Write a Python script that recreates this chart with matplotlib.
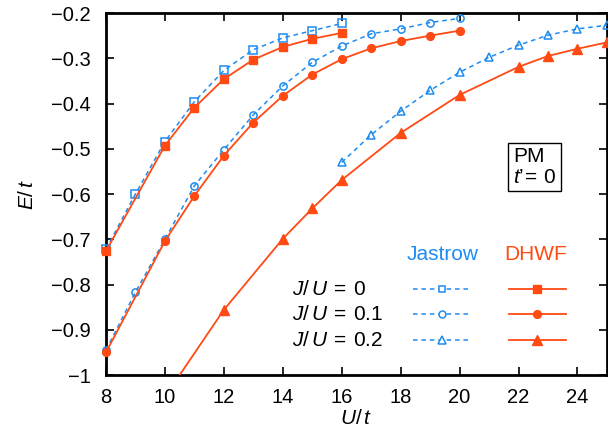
"""E/t versus U/t for Jastrow and DHWF wave functions (PM, t'=0)."""

import matplotlib
matplotlib.use('Agg')
import matplotlib.pyplot as plt
from matplotlib.lines import Line2D

plt.rcParams['font.family'] = ['Liberation Sans', 'DejaVu Sans']
plt.rcParams['mathtext.fontset'] = 'custom'
plt.rcParams['mathtext.rm'] = 'Liberation Sans'
plt.rcParams['mathtext.it'] = 'Liberation Sans:italic'

BLUE = '#1E8CF0'
RED = '#FF4A14'

# Jastrow (open symbols, dashed)
u_jas_0 = [8, 9, 10, 11, 12, 13, 14, 15, 16]
e_jas_0 = [-0.722, -0.600, -0.484, -0.396, -0.327, -0.281, -0.255, -0.239, -0.223]
u_jas_1 = [8, 9, 10, 11, 12, 13, 14, 15, 16, 17, 18, 19, 20]
e_jas_1 = [-0.945, -0.817, -0.700, -0.582, -0.502, -0.425, -0.361, -0.309,
           -0.273, -0.246, -0.235, -0.221, -0.212]
u_jas_2 = [16, 17, 18, 19, 20, 21, 22, 23, 24, 25]
e_jas_2 = [-0.530, -0.469, -0.417, -0.371, -0.331, -0.298, -0.271, -0.249,
           -0.235, -0.227]

# DHWF (filled symbols, solid)
u_dh_0 = [8, 10, 11, 12, 13, 14, 15, 16]
e_dh_0 = [-0.726, -0.493, -0.409, -0.346, -0.303, -0.275, -0.257, -0.244]
u_dh_1 = [8, 10, 11, 12, 13, 14, 15, 16, 17, 18, 19, 20]
e_dh_1 = [-0.950, -0.704, -0.604, -0.515, -0.442, -0.383, -0.336, -0.302,
          -0.278, -0.262, -0.250, -0.239]
u_dh_2 = [10, 12, 14, 15, 16, 18, 20, 22, 23, 24, 25]
e_dh_2 = [-1.048, -0.856, -0.699, -0.632, -0.569, -0.465, -0.381, -0.319,
          -0.295, -0.279, -0.265]

row_labels = ['$J/\\,U\\:=\\:0$', '$J/\\,U\\:=\\:0.1$', '$J/\\,U\\:=\\:0.2$']
x_ticks = [8, 10, 12, 14, 16, 18, 20, 22, 24]
y_ticks = [-1.0, -0.9, -0.8, -0.7, -0.6, -0.5, -0.4, -0.3, -0.2]
y_tick_labels = ['\u22121', '\u22120.9', '\u22120.8', '\u22120.7', '\u22120.6',
                 '\u22120.5', '\u22120.4', '\u22120.3', '\u22120.2']

markers = ['s', 'o', '^']
ms_jas = [5.2, 5.2, 5.5]
ms_dh = [6.0, 5.6, 6.8]
ms_leg_jas = [5.0, 5.0, 5.5]
ms_leg_dh = [6.0, 5.6, 6.8]
dash = (0, (3, 2.5))
FS = 15

fig = plt.figure(figsize=(6.08, 4.38), dpi=100)
ax = fig.add_axes([0.1743, 0.1438, 0.8240, 0.8265])

jas = [(u_jas_0, e_jas_0), (u_jas_1, e_jas_1), (u_jas_2, e_jas_2)]
dhw = [(u_dh_0, e_dh_0), (u_dh_1, e_dh_1), (u_dh_2, e_dh_2)]

for (u, e), m, ms in zip(jas, markers, ms_jas):
  ax.plot(u, e, color=BLUE, lw=1.1, linestyle=dash, marker=m, ms=ms,
          mfc='none', mec=BLUE, mew=1.1, clip_on=False, zorder=3)
for (u, e), m, ms in zip(dhw, markers, ms_dh):
  ax.plot(u, e, color=RED, lw=1.3, marker=m, ms=ms, mfc=RED, mec=RED,
          zorder=4, clip_on=(m == '^'))

ax.set_xlim(8, 25)
ax.set_ylim(-1.0, -0.2)
ax.set_xticks(x_ticks)
ax.set_yticks(y_ticks)
ax.set_yticklabels(y_tick_labels)
ax.tick_params(direction='in', length=6, width=1.2, labelsize=14.5,
               top=True, right=True)
ax.tick_params(axis='y', pad=11)
ax.tick_params(axis='x', pad=9)
for s in ax.spines.values():
  s.set_linewidth(2)

ax.set_xlabel('$U/\\,t$', fontsize=FS, labelpad=2)
ax.set_ylabel('$E/\\,t$', fontsize=FS, labelpad=10)

# legend drawn by hand in axes coordinates
tr = ax.transAxes
ax.text(0.671, 0.334, 'Jastrow', color=BLUE, fontsize=FS, ha='center',
        va='center', transform=tr)
ax.text(0.858, 0.334, 'DHWF', color=RED, fontsize=FS, ha='center',
        va='center', transform=tr)
rows_y = [0.2376, 0.1685, 0.0967]
for lab, yy, m, a, b in zip(row_labels, rows_y, markers, ms_leg_jas, ms_leg_dh):
  ax.text(0.371, yy, lab, fontsize=FS, ha='left', va='center', transform=tr)
  ax.add_line(Line2D([0.613, 0.729], [yy, yy], transform=tr, color=BLUE,
                     lw=1.1, linestyle=dash))
  ax.add_line(Line2D([0.671], [yy], transform=tr, color=BLUE, marker=m,
                     ms=a, mfc='white', mec=BLUE, mew=1.1))
  ax.add_line(Line2D([0.804, 0.918], [yy, yy], transform=tr, color=RED, lw=1.3))
  ax.add_line(Line2D([0.860], [yy], transform=tr, color=RED, marker=m,
                     ms=b, mfc=RED, mec=RED))

ax.text(0.812, 0.575, "PM\n$t\u2019\\!=\\:0$", fontsize=FS, ha='left', va='center',
        transform=tr, linespacing=1.1,
        bbox=dict(boxstyle='square,pad=0.22', fc='white', ec='black', lw=1.0))

fig.savefig('out.png', dpi=100)
